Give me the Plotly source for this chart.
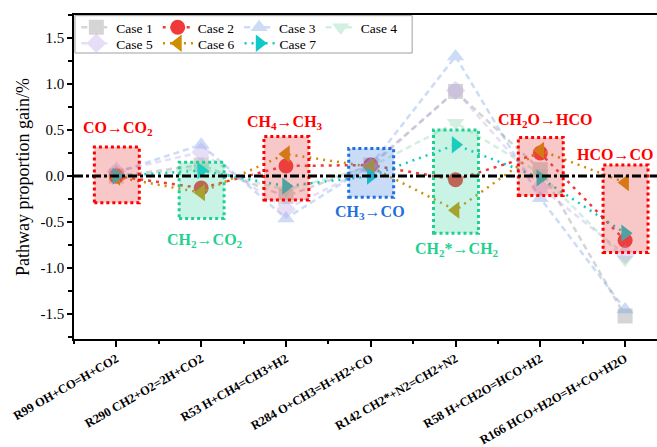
import plotly.graph_objects as go

categories = ["R99 OH+CO=H+CO2", "R290 CH2+O2=2H+CO2", "R53 H+CH4=CH3+H2",
              "R284 O+CH3=H+H2+CO", "R142 CH2*+N2=CH2+N2", "R58 H+CH2O=HCO+H2",
              "R166 HCO+H2O=H+CO+H2O"]
case_names = ["Case 1", "Case 2", "Case 3", "Case 4", "Case 5", "Case 6", "Case 7"]
case1 = [0.00, 0.12, -0.22, 0.12, 0.92, 0.07, -1.52]
case2 = [0.00, -0.13, 0.11, 0.12, -0.04, 0.25, -0.70]
case3 = [0.04, 0.34, -0.46, 0.12, 1.30, -0.24, -1.45]
case4 = [0.00, 0.08, -0.15, 0.10, 0.58, 0.03, -0.91]
case5 = [0.05, 0.26, -0.36, 0.10, 0.93, -0.12, -0.85]
case6 = [-0.01, -0.18, 0.24, 0.10, -0.37, 0.28, -0.07]
case7 = [0.00, 0.06, -0.11, 0.00, 0.34, -0.02, -0.62]
series = [case1, case2, case3, case4, case5, case6, case7]

ytick_vals = [-1.5, -1.0, -0.5, 0.0, 0.5, 1.0, 1.5]
ytick_text = ["-1.5", "-1.0", "-0.5", "0.0", "0.5", "1.0", "1.5"]

# annotation boxes: (category index, y top, y bottom, label)
box_cats = [0, 1, 2, 3, 4, 5, 6]
box_top = [0.315, 0.15, 0.43, 0.30, 0.50, 0.42, 0.12]
box_bottom = [-0.29, -0.46, -0.26, -0.23, -0.62, -0.21, -0.83]
box_labels = ["CO→CO<sub>2</sub>", "CH<sub>2</sub>→CO<sub>2</sub>", "CH<sub>4</sub>→CH<sub>3</sub>",
              "CH<sub>3</sub>→CO", "CH<sub>2</sub>*→CH<sub>2</sub>", "CH<sub>2</sub>O→HCO", "HCO→CO"]
label_x = [0.02, 1.04, 1.99, 2.99, 4.02, 5.05, 5.88]
label_y = [0.52, -0.70, 0.58, -0.40, -0.80, 0.60, 0.23]
box_kind = ["red", "green", "red", "blue", "green", "red", "red"]

styles = [
    dict(color="#8a8a8a", symbol="square", dash="6px,4px", opacity=0.35),
    dict(color="#f03a3a", symbol="circle", dash="3px,5px", opacity=1.0),
    dict(color="#6f9be8", symbol="triangle-up", dash="6px,4px", opacity=0.35),
    dict(color="#7fd4a8", symbol="triangle-down", dash="6px,4px", opacity=0.35),
    dict(color="#b9a0e8", symbol="diamond", dash="6px,4px", opacity=0.35),
    dict(color="#cc8f00", symbol="triangle-left", dash="2px,5px", opacity=1.0),
    dict(color="#10c8c8", symbol="triangle-right", dash="2px,5px", opacity=1.0),
]

fig = go.Figure()
xs = list(range(len(categories)))
for i, (name, vals, st) in enumerate(zip(case_names, series, styles)):
    fig.add_trace(go.Scatter(
        x=xs, y=vals, name=name, mode="lines+markers",
        line=dict(color=st["color"], dash=st["dash"], width=2.5),
        marker=dict(symbol=st["symbol"], size=15, color=st["color"]),
        opacity=st["opacity"],
        legend="legend" if i < 4 else "legend2",
    ))

kind_style = {
    "red": ("#ff0000", "rgba(232,72,72,0.30)"),
    "green": ("#1fd18f", "rgba(60,215,160,0.28)"),
    "blue": ("#1f6fe0", "rgba(72,138,232,0.30)"),
}
shapes = []
annotations = []
for c, t, b, lab, lx, ly, k in zip(box_cats, box_top, box_bottom, box_labels, label_x, label_y, box_kind):
    line_c, fill_c = kind_style[k]
    shapes.append(dict(type="rect", xref="x", yref="y", x0=c - 0.26, x1=c + 0.27, y0=b, y1=t,
                       line=dict(color=line_c, width=3, dash="dot"), fillcolor=fill_c, layer="above"))
    annotations.append(dict(x=lx, y=ly, xref="x", yref="y", text=lab, showarrow=False,
                            font=dict(family="Liberation Serif", size=16, color=line_c, weight="bold")))

shapes.append(dict(type="line", xref="paper", yref="y", x0=0, x1=1, y0=0, y1=0,
                   line=dict(color="black", width=3, dash="dashdot"), layer="above"))

# legend frame (px -> paper): plot area x 74..657, y 15..339
shapes.append(dict(type="rect", xref="paper", yref="paper",
                   x0=0.0017, x1=0.58, y0=1 - 38 / 324, y1=0.998,
                   line=dict(color="#a0a0a0", width=1), fillcolor="white", layer="above"))

leg_common = dict(orientation="h", xanchor="left", yanchor="top",
                  borderwidth=0, bgcolor="rgba(0,0,0,0)",
                  font=dict(family="Liberation Serif", size=13.5, color="black"),
                  itemwidth=30, tracegroupgap=0)

fig.update_layout(
    width=657, height=447,
    margin=dict(l=74, r=0, t=15, b=108, autoexpand=False),
    paper_bgcolor="white", plot_bgcolor="white",
    font=dict(family="Liberation Serif", color="black"),
    shapes=shapes, annotations=annotations,
    showlegend=True,
    legend=dict(x=0.004, y=1 + 3 / 324, **leg_common),
    legend2=dict(x=0.004, y=1 - 13 / 324, **leg_common),
    xaxis=dict(range=[-0.5, 6.376], tickmode="array", tickvals=xs, ticktext=categories,
               tickangle=-30, tickfont=dict(family="Liberation Serif", size=12.5, weight="bold"),
               ticks="outside", ticklen=6, tickwidth=1.5, tickcolor="black",
               showline=True, linecolor="black", linewidth=1.6, mirror=True,
               showgrid=False, zeroline=False,
               minor=dict(tickmode="array", tickvals=[i + 0.5 for i in range(-1, len(categories))],
                          ticks="outside", ticklen=3, tickwidth=1.5, tickcolor="black")),
    yaxis=dict(range=[-1.77, 1.75], tickmode="array", tickvals=ytick_vals, ticktext=ytick_text,
               tickfont=dict(family="Liberation Serif", size=15),
               ticks="outside", ticklen=5, tickwidth=1.5, tickcolor="black",
               showline=True, linecolor="black", linewidth=1.6, mirror=False,
               showgrid=False, zeroline=False,
               title=dict(text="Pathway proportion gain/%", font=dict(family="Liberation Serif", size=18),
                          standoff=6),
               minor=dict(tickmode="linear", tick0=0, dtick=0.25, ticks="outside", ticklen=4,
                          tickwidth=1.5, tickcolor="black")),
)

fig.write_html("out.html")
